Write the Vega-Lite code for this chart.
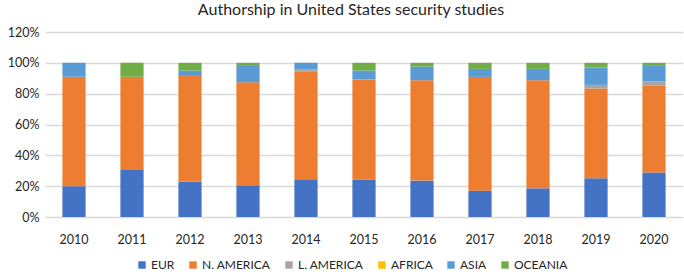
{
  "$schema": "https://vega.github.io/schema/vega-lite/v6.json",
  "width": 638,
  "height": 185,
  "autosize": {"type": "none"},
  "padding": {"left": 45, "top": 32, "right": 1, "bottom": 59},
  "background": "white",
  "title": {
    "text": "Authorship in United States security studies",
    "font": "Lato",
    "fontSize": 16,
    "fontWeight": "normal",
    "color": "#262626",
    "anchor": "middle",
    "dx": -13,
    "offset": 8
  },
  "data": {
    "values": [
      {"year": "2010", "region": "EUR", "ord": 1, "v": 20},
      {"year": "2010", "region": "N. AMERICA", "ord": 2, "v": 71},
      {"year": "2010", "region": "L. AMERICA", "ord": 3, "v": 0},
      {"year": "2010", "region": "AFRICA", "ord": 4, "v": 0},
      {"year": "2010", "region": "ASIA", "ord": 5, "v": 9},
      {"year": "2010", "region": "OCEANIA", "ord": 6, "v": 0},
      {"year": "2011", "region": "EUR", "ord": 1, "v": 30.5},
      {"year": "2011", "region": "N. AMERICA", "ord": 2, "v": 60.5},
      {"year": "2011", "region": "L. AMERICA", "ord": 3, "v": 0},
      {"year": "2011", "region": "AFRICA", "ord": 4, "v": 0},
      {"year": "2011", "region": "ASIA", "ord": 5, "v": 0},
      {"year": "2011", "region": "OCEANIA", "ord": 6, "v": 9},
      {"year": "2012", "region": "EUR", "ord": 1, "v": 23},
      {"year": "2012", "region": "N. AMERICA", "ord": 2, "v": 68.5},
      {"year": "2012", "region": "L. AMERICA", "ord": 3, "v": 0},
      {"year": "2012", "region": "AFRICA", "ord": 4, "v": 0},
      {"year": "2012", "region": "ASIA", "ord": 5, "v": 3.5},
      {"year": "2012", "region": "OCEANIA", "ord": 6, "v": 5},
      {"year": "2013", "region": "EUR", "ord": 1, "v": 20.6},
      {"year": "2013", "region": "N. AMERICA", "ord": 2, "v": 66.8},
      {"year": "2013", "region": "L. AMERICA", "ord": 3, "v": 0},
      {"year": "2013", "region": "AFRICA", "ord": 4, "v": 0},
      {"year": "2013", "region": "ASIA", "ord": 5, "v": 10.6},
      {"year": "2013", "region": "OCEANIA", "ord": 6, "v": 2},
      {"year": "2014", "region": "EUR", "ord": 1, "v": 24.5},
      {"year": "2014", "region": "N. AMERICA", "ord": 2, "v": 70},
      {"year": "2014", "region": "L. AMERICA", "ord": 3, "v": 1.3},
      {"year": "2014", "region": "AFRICA", "ord": 4, "v": 0},
      {"year": "2014", "region": "ASIA", "ord": 5, "v": 4.2},
      {"year": "2014", "region": "OCEANIA", "ord": 6, "v": 0},
      {"year": "2015", "region": "EUR", "ord": 1, "v": 24.2},
      {"year": "2015", "region": "N. AMERICA", "ord": 2, "v": 65},
      {"year": "2015", "region": "L. AMERICA", "ord": 3, "v": 0},
      {"year": "2015", "region": "AFRICA", "ord": 4, "v": 0},
      {"year": "2015", "region": "ASIA", "ord": 5, "v": 5.8},
      {"year": "2015", "region": "OCEANIA", "ord": 6, "v": 5},
      {"year": "2016", "region": "EUR", "ord": 1, "v": 23.6},
      {"year": "2016", "region": "N. AMERICA", "ord": 2, "v": 65.1},
      {"year": "2016", "region": "L. AMERICA", "ord": 3, "v": 0},
      {"year": "2016", "region": "AFRICA", "ord": 4, "v": 0},
      {"year": "2016", "region": "ASIA", "ord": 5, "v": 8.9},
      {"year": "2016", "region": "OCEANIA", "ord": 6, "v": 2.4},
      {"year": "2017", "region": "EUR", "ord": 1, "v": 17.1},
      {"year": "2017", "region": "N. AMERICA", "ord": 2, "v": 73.8},
      {"year": "2017", "region": "L. AMERICA", "ord": 3, "v": 0},
      {"year": "2017", "region": "AFRICA", "ord": 4, "v": 0},
      {"year": "2017", "region": "ASIA", "ord": 5, "v": 5.2},
      {"year": "2017", "region": "OCEANIA", "ord": 6, "v": 3.9},
      {"year": "2018", "region": "EUR", "ord": 1, "v": 18.6},
      {"year": "2018", "region": "N. AMERICA", "ord": 2, "v": 70.1},
      {"year": "2018", "region": "L. AMERICA", "ord": 3, "v": 0},
      {"year": "2018", "region": "AFRICA", "ord": 4, "v": 0},
      {"year": "2018", "region": "ASIA", "ord": 5, "v": 7.4},
      {"year": "2018", "region": "OCEANIA", "ord": 6, "v": 3.9},
      {"year": "2019", "region": "EUR", "ord": 1, "v": 25.1},
      {"year": "2019", "region": "N. AMERICA", "ord": 2, "v": 58.2},
      {"year": "2019", "region": "L. AMERICA", "ord": 3, "v": 2.4},
      {"year": "2019", "region": "AFRICA", "ord": 4, "v": 0},
      {"year": "2019", "region": "ASIA", "ord": 5, "v": 11.3},
      {"year": "2019", "region": "OCEANIA", "ord": 6, "v": 3},
      {"year": "2020", "region": "EUR", "ord": 1, "v": 28.8},
      {"year": "2020", "region": "N. AMERICA", "ord": 2, "v": 56.3},
      {"year": "2020", "region": "L. AMERICA", "ord": 3, "v": 2.8},
      {"year": "2020", "region": "AFRICA", "ord": 4, "v": 0},
      {"year": "2020", "region": "ASIA", "ord": 5, "v": 10.6},
      {"year": "2020", "region": "OCEANIA", "ord": 6, "v": 1.5}
    ]
  },
  "transform": [{"calculate": "datum.v / 100", "as": "share"}],
  "mark": {"type": "bar"},
  "encoding": {
    "x": {
      "field": "year",
      "type": "ordinal",
      "title": null,
      "scale": {"paddingInner": 0.6, "paddingOuter": 0.3},
      "axis": {
        "labelAngle": 0,
        "labelFont": "Lato",
        "labelFontSize": 12.5,
        "labelColor": "#262626",
        "ticks": false,
        "domain": false,
        "labelPadding": 16
      }
    },
    "y": {
      "field": "share",
      "type": "quantitative",
      "stack": "zero",
      "title": null,
      "scale": {"domain": [0, 1.2], "nice": false},
      "axis": {
        "values": [0, 0.2, 0.4, 0.6, 0.8, 1.0, 1.2],
        "format": ".0%",
        "labelFont": "Lato",
        "labelFontSize": 12.5,
        "labelColor": "#262626",
        "ticks": false,
        "domain": false,
        "gridColor": "#d9d9d9",
        "gridWidth": 1.3,
        "labelPadding": 6
      }
    },
    "color": {
      "field": "region",
      "type": "nominal",
      "scale": {
        "domain": ["EUR", "N. AMERICA", "L. AMERICA", "AFRICA", "ASIA", "OCEANIA"],
        "range": ["#4472C4", "#ED7D31", "#A5A5A5", "#FFC000", "#5B9BD5", "#70AD47"]
      },
      "legend": {
        "title": null,
        "orient": "none",
        "legendX": 91,
        "legendY": 227,
        "direction": "horizontal",
        "symbolType": "square",
        "symbolSize": 55,
        "symbolStrokeWidth": 0,
        "labelFont": "Lato",
        "labelFontSize": 12,
        "labelColor": "#262626",
        "labelOffset": 3,
        "columnPadding": 12
      }
    },
    "order": {"field": "ord", "type": "quantitative"}
  },
  "config": {"view": {"stroke": null}}
}
